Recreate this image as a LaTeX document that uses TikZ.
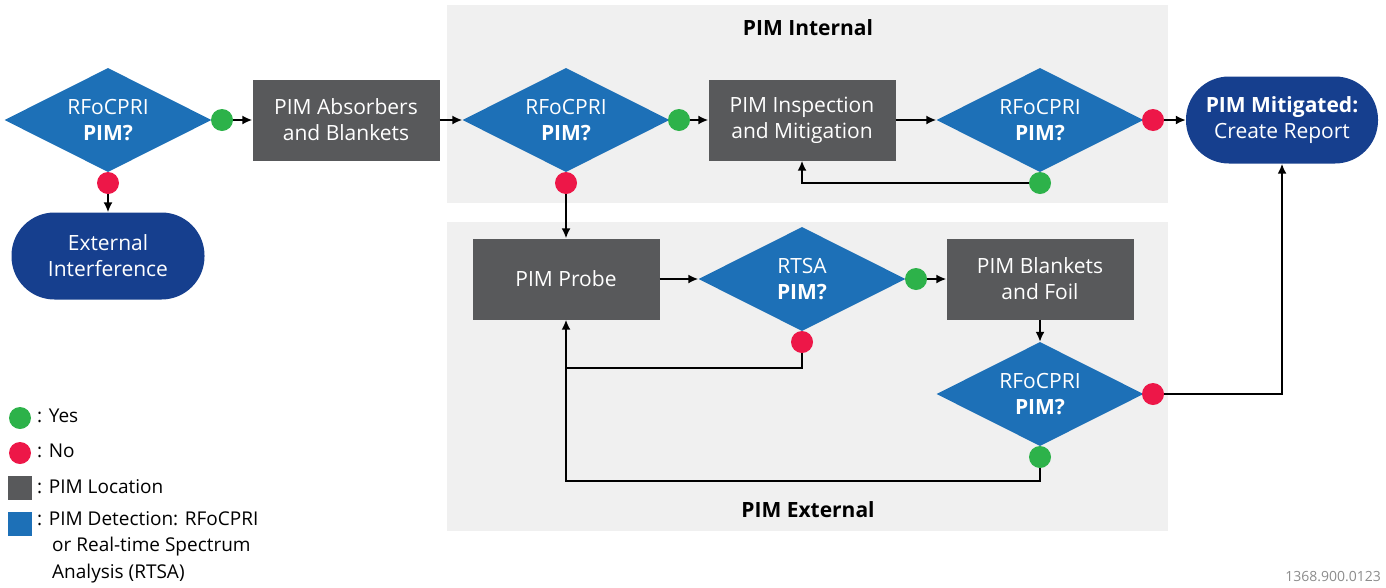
\documentclass[tikz,border=0pt]{standalone}
\usepackage{fontspec}
\setmainfont{Open Sans}
\usepackage{tikz}
\usetikzlibrary{shapes.geometric, arrows.meta, positioning, calc}
\definecolor{detblue}{RGB}{29, 112, 183}
\definecolor{locgray}{RGB}{88, 89, 91}
\definecolor{endblue}{RGB}{22, 63, 142}
\definecolor{yesgreen}{RGB}{45, 178, 74}
\definecolor{nored}{RGB}{237, 23, 72}
\definecolor{panelgray}{RGB}{240, 240, 240}
\definecolor{codegray}{RGB}{140, 140, 140}
\newcommand{\boxfont}{\fontsize{21}{26}\selectfont}
\newcommand{\keyfont}{\fontsize{19}{26.5}\selectfont}

\begin{document}
\begin{tikzpicture}[x=1pt, y=-1pt,
  decide/.style={diamond, aspect=2, fill=detblue, text=white, minimum width=207pt, minimum height=104pt, inner sep=0pt, align=center, font=\boxfont},
  location/.style={rectangle, fill=locgray, text=white, minimum width=187pt, minimum height=81pt, align=center, font=\boxfont},
  endpoint/.style={rectangle, rounded corners=43pt, fill=endblue, text=white, minimum width=193pt, minimum height=87pt, align=center, font=\boxfont},
  yesdot/.style={circle, fill=yesgreen, minimum size=22pt, inner sep=0pt},
  nodot/.style={circle, fill=nored, minimum size=22pt, inner sep=0pt},
  keybox/.style={rectangle, fill=#1, minimum size=24pt, inner sep=0pt},
  keytext/.style={anchor=west, align=left, font=\keyfont, inner sep=0pt},
  panel/.style={font=\boxfont\bfseries},
  arr/.style={-{Latex[length=10pt, width=9pt]}, line width=1.8pt},
  link/.style={line width=1.8pt},
]
  \useasboundingbox (0,0) rectangle (1386,587);

  % Panels
  \fill[panelgray] (447,5) rectangle (1168,203);
  \fill[panelgray] (447,222) rectangle (1168,531);
  \node[panel] (internal) at (808,28) {PIM Internal};
  \node[panel] (external) at (808,510) {PIM External};

  % Flow
  \node[decide] (d1) at (108,120) {RFoCPRI\\\textbf{PIM?}};
  \node[endpoint] (extif) at (108,256) {External\\Interference};
  \node[location] (absorb) at (346,120) {PIM Absorbers\\and Blankets};
  \node[decide] (d2) at (566,120) {RFoCPRI\\\textbf{PIM?}};
  \node[location] (inspect) at (802,120) {PIM Inspection\\and Mitigation};
  \node[decide] (d3) at (1040,120) {RFoCPRI\\\textbf{PIM?}};
  \node[endpoint, minimum width=192pt] (mitig) at (1282,120) {\textbf{PIM Mitigated:}\\Create Report};
  \node[location] (probe) at (566,279) {PIM Probe};
  \node[decide] (rtsa) at (802,279) {RTSA\\\textbf{PIM?}};
  \node[location] (foil) at (1040,279) {PIM Blankets\\and Foil};
  \node[decide] (d4) at (1040,394) {RFoCPRI\\\textbf{PIM?}};

  % Answers
  \node[yesdot] (y1) at (222,120) {};
  \node[nodot] (n1) at (108,183) {};
  \node[yesdot] (y2) at (679,120) {};
  \node[nodot] (n2) at (566,183) {};
  \node[nodot] (n3) at (1153,120) {};
  \node[yesdot] (y3) at (1040,183) {};
  \node[yesdot] (y5) at (916,279) {};
  \node[nodot] (n5) at (802,342) {};
  \node[nodot] (n4) at (1153,394) {};
  \node[yesdot] (y4) at (1040,457) {};
  \coordinate (ret) at (566,481);
  \coordinate (join) at (566,368);

  \draw[arr] (y1) -- (absorb);
  \draw[arr] (n1) -- (extif);
  \draw[arr] (absorb) -- (d2);
  \draw[arr] (y2) -- (inspect);
  \draw[arr] (inspect) -- (d3);
  \draw[arr] (n3) -- (mitig);
  \draw[arr] (y3) -| (inspect.south);
  \draw[arr] (n2) -- (probe);
  \draw[arr] (probe) -- (rtsa);
  \draw[arr] (y5) -- (foil);
  \draw[arr] (foil) -- (d4);
  \draw[arr] (n4) -| (mitig.south);
  \draw[arr] (y4) |- (ret) -- (probe.south);
  \draw[link] (n5) |- (join);

  % Legend
  \node[yesdot] (kyes) at (20,418) {};
  \node[nodot] (kno) at (20,453) {};
  \node[keybox=locgray] (kloc) at (20,488) {};
  \node[keybox=detblue] (kdet) at (20,524) {};
  \node[keytext] at (37,416) {: Yes};
  \node[keytext] at (37,451) {: No};
  \node[keytext] at (37,487) {: PIM Location};
  \node[keytext, anchor=north west] at (37,511) {: PIM Detection: RFoCPRI\\\hspace*{15pt}or Real-time Spectrum\\\hspace*{15pt}Analysis (RTSA)};

  \node[anchor=east, text=codegray, font=\fontsize{14}{16}\selectfont, inner sep=0pt] (code) at (1381,577) {1368.900.0123};
\end{tikzpicture}
\end{document}
